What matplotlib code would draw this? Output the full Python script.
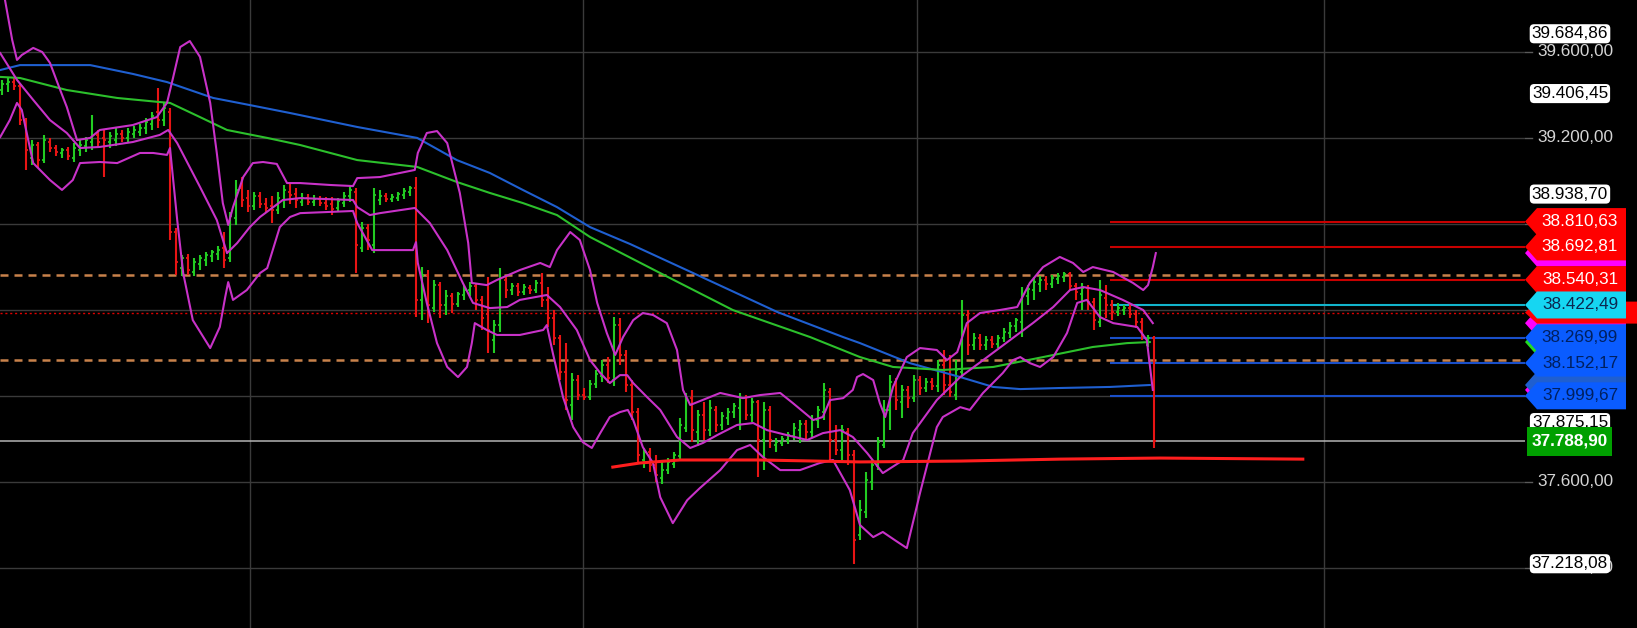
import matplotlib
matplotlib.use('Agg')
import matplotlib.pyplot as plt
from matplotlib.patches import Polygon, Rectangle
import numpy as np

plt.rcParams['font.family'] = ['Liberation Sans', 'DejaVu Sans']

# ---------------- price bars (OHLC) ----------------
opens = [39423, 39451, 39460, 39442, 39283, 39107, 39167, 39097, 39181, 39153,
         39130, 39144, 39107, 39144, 39162, 39181, 39214, 39200, 39181, 39190,
         39218, 39200, 39218, 39228, 39246, 39265, 39321, 39283, 39321, 38762,
         38594, 38641, 38576, 38613, 38632, 38650, 38660, 38688, 38641, 38827,
         38967, 38920, 38883, 38930, 38892, 38883, 38865, 38911, 38948, 38939,
         38902, 38920, 38902, 38916, 38897, 38892, 38874, 38897, 38930, 38948,
         38688, 38781, 38702, 38911, 38930, 38916, 38920, 38934, 38948, 38967,
         38446, 38562, 38408, 38515, 38422, 38464, 38427, 38469, 38492, 38511,
         38446, 38380, 38259, 38329, 38539, 38492, 38511, 38483, 38501, 38492,
         38525, 38446, 38362, 38269, 38110, 37957, 38073, 38003, 37994, 38054,
         38092, 38143, 38073, 38329, 38190, 38050, 37924, 37701, 37738, 37678,
         37617, 37654, 37682, 37719, 37850, 37989, 37831, 37910, 37840, 37934,
         37864, 37896, 37924, 37943, 37989, 37910, 37971, 37794, 37934, 37771,
         37780, 37794, 37812, 37840, 37868, 37831, 37887, 37924, 38017, 37794,
         37747, 37831, 37724, 37352, 37459, 37598, 37673, 37771, 37934, 38064,
         37971, 38027, 37989, 38073, 38036, 38064, 38045, 38143, 38050, 38003,
         38110, 38376, 38236, 38269, 38236, 38259, 38241, 38269, 38292, 38324,
         38343, 38464, 38492, 38520, 38539, 38520, 38543, 38553, 38567, 38511,
         38473, 38501, 38436, 38343, 38455, 38422, 38390, 38399, 38408, 38380,
         38343, 38236, 38269]
highs = [39470, 39479, 39479, 39451, 39293, 39190, 39181, 39214, 39200, 39167,
         39153, 39158, 39176, 39190, 39204, 39307, 39237, 39237, 39228, 39246,
         39237, 39246, 39255, 39265, 39293, 39321, 39432, 39363, 39339, 38781,
         38655, 38660, 38641, 38655, 38669, 38678, 38697, 38762, 38855, 39004,
         39018, 38958, 38948, 38948, 38920, 38930, 38948, 38981, 38990, 38967,
         38944, 38939, 38934, 38930, 38925, 38925, 38920, 38948, 38976, 38967,
         38809, 38799, 38967, 38958, 38944, 38939, 38948, 38967, 38976, 39018,
         38599, 38585, 38539, 38529, 38492, 38478, 38483, 38515, 38529, 38525,
         38464, 38553, 38352, 38594, 38557, 38525, 38525, 38520, 38515, 38539,
         38571, 38506, 38399, 38283, 38245, 38106, 38096, 38036, 38073, 38120,
         38166, 38180, 38366, 38362, 38213, 38073, 37943, 37757, 37757, 37724,
         37691, 37710, 37738, 37896, 38013, 38027, 37934, 37971, 37980, 37952,
         37924, 37943, 37966, 38013, 38003, 37989, 37980, 37971, 37952, 37803,
         37812, 37831, 37873, 37887, 37887, 37910, 37952, 38059, 38036, 37864,
         37864, 37850, 37747, 37514, 37645, 37701, 37808, 37980, 38096, 38082,
         38050, 38045, 38096, 38092, 38082, 38082, 38166, 38213, 38190, 38166,
         38446, 38399, 38292, 38287, 38278, 38278, 38283, 38315, 38343, 38362,
         38506, 38515, 38553, 38557, 38557, 38562, 38571, 38576, 38576, 38525,
         38525, 38515, 38455, 38539, 38515, 38446, 38432, 38422, 38427, 38399,
         38362, 38283, 38278]
lows = [39400, 39414, 39423, 39260, 39051, 39074, 39060, 39083, 39134, 39116,
        39107, 39097, 39088, 39116, 39134, 39144, 39153, 39018, 39153, 39162,
        39181, 39181, 39200, 39209, 39218, 39237, 39246, 39255, 38725, 38562,
        38557, 38562, 38557, 38585, 38604, 38622, 38632, 38594, 38622, 38795,
        38878, 38855, 38865, 38874, 38855, 38804, 38846, 38874, 38892, 38874,
        38883, 38888, 38883, 38883, 38865, 38841, 38855, 38878, 38902, 38571,
        38669, 38678, 38664, 38888, 38902, 38902, 38906, 38916, 38930, 38366,
        38352, 38338, 38390, 38362, 38376, 38385, 38413, 38446, 38464, 38399,
        38306, 38199, 38199, 38297, 38455, 38469, 38464, 38469, 38473, 38478,
        38413, 38320, 38236, 38073, 37934, 37887, 37980, 37980, 37980, 38036,
        38064, 38059, 38045, 38143, 38017, 37887, 37687, 37663, 37645, 37598,
        37589, 37636, 37663, 37701, 37831, 37784, 37766, 37794, 37812, 37831,
        37840, 37864, 37896, 37840, 37887, 37878, 37622, 37654, 37757, 37738,
        37766, 37775, 37794, 37780, 37794, 37803, 37850, 37887, 37701, 37724,
        37701, 37678, 37218, 37328, 37431, 37561, 37654, 37757, 37840, 37934,
        37896, 37943, 37971, 38003, 38017, 38027, 38017, 38003, 37994, 37980,
        38082, 38190, 38213, 38213, 38213, 38222, 38222, 38250, 38269, 38297,
        38273, 38422, 38446, 38483, 38492, 38501, 38520, 38529, 38492, 38446,
        38399, 38399, 38306, 38320, 38362, 38352, 38371, 38376, 38362, 38315,
        38259, 38227, 37757]
closes = [39451, 39460, 39442, 39283, 39144, 39167, 39097, 39190, 39153, 39134,
          39144, 39116, 39153, 39167, 39190, 39214, 39181, 39190, 39209, 39218,
          39200, 39228, 39237, 39246, 39274, 39302, 39283, 39339, 38762, 38622,
          38641, 38585, 38622, 38641, 38655, 38669, 38678, 38632, 38837, 38958,
          38911, 38883, 38930, 38892, 38874, 38865, 38920, 38958, 38934, 38911,
          38920, 38902, 38916, 38897, 38883, 38869, 38906, 38930, 38958, 38702,
          38781, 38725, 38934, 38930, 38916, 38925, 38939, 38953, 38967, 38446,
          38562, 38422, 38515, 38422, 38464, 38427, 38473, 38492, 38511, 38446,
          38362, 38306, 38329, 38548, 38492, 38511, 38483, 38506, 38492, 38525,
          38446, 38362, 38269, 38110, 37980, 38073, 38003, 37994, 38054, 38101,
          38143, 38082, 38329, 38190, 38050, 37924, 37724, 37738, 37678, 37631,
          37654, 37691, 37724, 37864, 37980, 37840, 37910, 37840, 37943, 37864,
          37906, 37924, 37952, 37989, 37910, 37971, 37794, 37934, 37794, 37784,
          37798, 37817, 37850, 37868, 37831, 37887, 37934, 38027, 37794, 37747,
          37840, 37724, 37328, 37468, 37608, 37678, 37784, 37934, 38064, 37980,
          38027, 37989, 38073, 38036, 38064, 38045, 38143, 38050, 38017, 38120,
          38376, 38236, 38269, 38236, 38259, 38241, 38269, 38297, 38324, 38352,
          38469, 38497, 38529, 38539, 38520, 38548, 38557, 38567, 38511, 38483,
          38501, 38436, 38352, 38469, 38422, 38390, 38408, 38408, 38380, 38343,
          38283, 38269, 37788.90]

# ---------------- indicators (bar index, price) ----------------
bb_upper_x = [-0.3, 0.5, 1.7, 2.5, 3.3, 5.2, 6.7, 8.0, 9.7, 10.8, 12.5, 14.7, 16.3, 21.8, 25.8,
              27.5, 28.5, 29.7, 31.3, 33.0, 34.7, 35.8, 36.8, 37.7, 38.5, 40.2, 41.8, 43.5, 45.8,
              47.5, 49.7, 54.7, 58.5, 59.2, 63.0, 68.8, 69.3, 70.8, 72.5, 74.2, 76.3, 77.7, 78.3,
              80.8, 82.5, 86.3, 89.7, 91.3, 92.5, 94.7, 96.3, 98.0, 99.2, 100.8, 102.2, 103.5,
              105.2, 106.8, 108.5, 110.8, 112.5, 113.5, 114.7, 118.0, 119.7, 123.5, 126.3, 129.7,
              131.8, 135.2, 136.8, 138.0, 140.2, 141.8, 142.5, 143.5, 145.2, 146.3, 147.2, 148.5,
              150.8, 153.0, 155.8, 157.5, 159.2, 160.8, 163.0, 166.3, 169.2, 171.3, 173.5, 176.3,
              178.5, 180.2, 181.8, 185.2, 188.5, 190.2, 191.0, 191.8, 192.3]
bb_upper_y = [39982, 39842, 39656, 39563, 39586, 39619, 39600, 39549, 39423, 39344, 39190, 39200,
              39237, 39260, 39297, 39363, 39479, 39623, 39651, 39577, 39363, 39130, 38897, 38795,
              38878, 39018, 39083, 39088, 39079, 38990, 38990, 38981, 38976, 39013, 39018, 39051,
              39130, 39223, 39232, 39176, 38944, 38711, 38525, 38515, 38539, 38585, 38618, 38599,
              38678, 38762, 38725, 38585, 38432, 38292, 38190, 38273, 38352, 38385, 38376, 38338,
              38213, 38027, 37957, 37994, 38013, 37989, 38003, 38013, 37966, 37887, 37901, 37980,
              37989, 38027, 38087, 38101, 38073, 37966, 37901, 38041, 38180, 38222, 38213, 38166,
              38203, 38338, 38385, 38399, 38413, 38525, 38599, 38646, 38618, 38576, 38599, 38576,
              38525, 38492, 38515, 38599, 38664]

bb_mid_x = [-0.3, 2.5, 5.2, 8.0, 10.8, 13.0, 16.3, 21.8, 26.3, 27.7, 29.2, 33.0, 35.8, 37.5, 39.2,
            41.3, 43.0, 46.8, 49.7, 58.5, 59.2, 61.3, 63.0, 68.8, 71.3, 74.2, 76.8, 78.5, 81.3,
            84.2, 86.3, 90.8, 93.0, 95.8, 98.0, 99.7, 101.3, 103.0, 104.2, 105.2, 107.5, 109.7,
            112.5, 114.7, 116.8, 119.2, 122.5, 125.2, 127.5, 130.8, 134.2, 136.8, 139.7, 141.8,
            144.2, 146.8, 150.2, 151.8, 155.8, 159.7, 164.2, 168.0, 171.8, 175.2, 178.0, 180.2,
            183.0, 186.8, 190.2, 191.8]
bb_mid_y = [39595, 39470, 39377, 39283, 39223, 39153, 39158, 39181, 39214, 39237, 39176, 38972,
            38818, 38664, 38711, 38785, 38832, 38911, 38920, 38911, 38878, 38841, 38850, 38874,
            38804, 38678, 38525, 38432, 38408, 38413, 38446, 38469, 38413, 38306, 38166, 38106,
            38059, 38096, 38096, 38059, 37994, 37934, 37808, 37757, 37780, 37817, 37864, 37873,
            37840, 37817, 37794, 37826, 37840, 37808, 37733, 37640, 37701, 37826, 37980, 38087,
            38180, 38259, 38338, 38413, 38492, 38506, 38492, 38446, 38399, 38338]

bb_lower_x = [-0.3, 1.3, 2.5, 3.3, 5.2, 8.0, 10.0, 11.8, 13.0, 16.3, 19.2, 23.0, 25.2, 27.5, 28.0,
              29.2, 30.2, 31.8, 34.7, 36.3, 37.2, 37.7, 38.5, 40.8, 43.0, 44.2, 46.3, 48.0, 49.7,
              58.5, 59.2, 61.7, 68.5, 69.0, 69.3, 70.8, 72.5, 74.2, 76.0, 77.5, 78.3, 78.8, 80.8,
              82.5, 86.3, 90.2, 90.8, 91.8, 93.5, 95.2, 96.8, 98.3, 99.7, 101.3, 103.0, 104.3,
              105.2, 106.8, 108.5, 109.7, 111.8, 114.2, 116.3, 119.7, 122.5, 124.7, 126.8, 129.7,
              133.0, 136.3, 138.5, 141.3, 143.0, 145.2, 146.8, 148.8, 150.8, 153.0, 155.8, 156.8,
              159.7, 161.3, 163.5, 166.8, 168.5, 169.7, 171.3, 173.0, 175.2, 177.5, 179.2, 180.8,
              183.0, 185.2, 189.2, 190.8, 191.8]
bb_lower_y = [39204, 39283, 39363, 39330, 39083, 39004, 38958, 39004, 39083, 39088, 39083, 39130,
              39130, 39121, 39153, 38818, 38571, 38352, 38222, 38320, 38459, 38529, 38446, 38492,
              38571, 38594, 38785, 38832, 38850, 38860, 38804, 38678, 38678, 38715, 38618, 38432,
              38245, 38134, 38087, 38134, 38245, 38338, 38306, 38283, 38283, 38306, 38329, 38199,
              37994, 37854, 37784, 37757, 37826, 37901, 37924, 37934, 37887, 37761, 37687, 37528,
              37407, 37514, 37570, 37654, 37747, 37771, 37715, 37654, 37654, 37687, 37701, 37561,
              37398, 37342, 37366, 37328, 37291, 37547, 37854, 37901, 37947, 37934, 38013, 38106,
              38166, 38180, 38152, 38134, 38180, 38292, 38432, 38446, 38366, 38338, 38320, 38259,
              38027]

ma_blue_x = [-0.3, 3.0, 14.7, 21.8, 27.5, 35.2, 41.3, 48.0, 59.2, 69.2, 75.8, 81.3, 86.8, 92.5,
             98.0, 104.7, 115.2, 129.2, 140.2, 143.0, 151.3, 159.7, 165.2, 169.7, 176.3, 184.7,
             191.3]
ma_blue_y = [39516, 39539, 39539, 39498, 39460, 39386, 39353, 39316, 39251, 39200, 39097, 39037,
             38958, 38878, 38785, 38706, 38571, 38390, 38273, 38245, 38152, 38087, 38041, 38031,
             38036, 38041, 38050]

ma_green_x = [-0.3, 3.0, 10.8, 19.2, 26.3, 28.0, 33.0, 37.5, 44.2, 49.7, 59.2, 69.2, 75.8, 81.3,
              86.8, 92.5, 98.0, 109.7, 121.8, 134.7, 143.0, 148.5, 156.8, 165.2, 173.5, 181.8,
              187.5, 191.3]
ma_green_y = [39484, 39479, 39423, 39386, 39367, 39363, 39297, 39237, 39200, 39167, 39097, 39065,
              38995, 38944, 38897, 38841, 38739, 38571, 38399, 38273, 38180, 38134, 38120, 38134,
              38180, 38227, 38245, 38250]

trend_x = [101.8, 106.3, 113.0, 126.3, 143.0, 159.7, 176.3, 193.0, 216.8]
trend_y = [37668, 37687, 37701, 37701, 37692, 37696, 37705, 37710, 37705]

# ---------------- levels ----------------
levels_red = [38810.63, 38692.81, 38540.31]
levels_cyan = [38422.49]
levels_blue = [38269.99, 38152.17, 37999.67]
level_start = 184.7
orange_dashed = [38562, 38166]
red_dotted = 38387
last_price = 37788.90
boxed_values = [39684.86, 39406.45, 38938.70, 37875.15, 37218.08]
grid_levels = [37200, 37600, 38000, 38400, 38800, 39200, 39600]
shown_tick_labels = [37200, 37600, 39200, 39600]
vgrid = [41.3, 96.8, 152.5, 220.3]

# ---------------- figure ----------------
W, H = 1637, 628
PLOT_W = 1525
YMAX, YMIN = 39842, 36919
fig = plt.figure(figsize=(W / 100, H / 100), dpi=100, facecolor='black')
ax = fig.add_axes([0, 0, PLOT_W / W, 1])
ax.set_facecolor('black')
ax.set_xlim(-1 / 3, 253.83)
ax.set_ylim(YMIN, YMAX)
ax.axis('off')

GRID = '#3a3a3a'
for t in grid_levels:
    ax.axhline(t, color=GRID, lw=1, zorder=0)
for v in vgrid:
    ax.axvline(v, color=GRID, lw=1, zorder=0)

# dashed / dotted levels
for v in orange_dashed:
    ax.axhline(v, color='#c8824b', lw=1.8, ls=(0, (3.2, 2.4)), zorder=1)
ax.axhline(red_dotted, color='#e00000', lw=1.0, ls=(0, (1.5, 2)), zorder=1)
ax.axhline(last_price, color='#b4b4b4', lw=1.1, zorder=1)

# bars
o = np.array(opens, float); h = np.array(highs, float)
l = np.array(lows, float); c = np.array(closes, float)
idx = np.arange(len(c))
cols = np.where(c >= o, '#22cc22', '#e81414')
ax.vlines(idx, l, h, colors=cols, lw=1.5, zorder=3)
ax.hlines(o, idx - 0.4, idx, colors=cols, lw=1.3, zorder=3)
ax.hlines(c, idx, idx + 0.4, colors=cols, lw=1.3, zorder=3)

# indicators
ax.plot(ma_blue_x, ma_blue_y, color='#1f5fd0', lw=1.5, zorder=4)
ax.plot(ma_green_x, ma_green_y, color='#2cc02c', lw=1.5, zorder=4)
for xs, ys in [(bb_upper_x, bb_upper_y), (bb_mid_x, bb_mid_y), (bb_lower_x, bb_lower_y)]:
    ax.plot(xs, ys, color='#c832c8', lw=1.5, zorder=5, solid_joinstyle='round')
ax.plot(trend_x, trend_y, color='#ff1e1e', lw=2.2, zorder=5)

# horizontal level lines from the right
for v in levels_red:
    ax.hlines(v, level_start, 253.83, color='#c80000', lw=1.5, zorder=2)
for v in levels_cyan:
    ax.hlines(v, level_start, 253.83, color='#12b4cc', lw=1.5, zorder=2)
for v in levels_blue:
    ax.hlines(v, level_start, 253.83, color='#1a4fc8', lw=1.5, zorder=2)

# ---------------- right price panel ----------------
pax = fig.add_axes([PLOT_W / W, 0, (W - PLOT_W) / W, 1])
pax.set_facecolor('#141414')
pax.set_xlim(PLOT_W, W)
pax.set_ylim(YMIN, YMAX)
pax.axis('off')
pax.patch.set_visible(True)
PX = (YMAX - YMIN) / H  # price units per pixel


def fmt(v):
    s = f"{v:,.2f}"
    return s.replace(',', 'X').replace('.', ',').replace('X', '.')


FS = 12.3
for t in grid_levels:
    pax.plot([1525, 1532], [t, t], color='#5a5a5a', lw=1)
for t in shown_tick_labels:
    pax.text(1575, t, fmt(t), color='#d4d4d4', ha='center', va='center', fontsize=FS, zorder=2)


def tag(v, face, tc=None, end=1626, hpx=27, z=3):
    hh = hpx * PX / 2
    poly = Polygon([(1525, v), (1537, v + hh), (end, v + hh), (end, v - hh), (1537, v - hh)],
                   closed=True, fc=face, ec='none', zorder=z)
    pax.add_patch(poly)
    if tc is not None:
        pax.text(1580, v, fmt(v), color=tc, ha='center', va='center', fontsize=FS, zorder=z + 0.5)


# indicator tags (mostly covered by the level tags)
tag(bb_upper_y[-1], '#ff00ff', z=3)
tag(bb_mid_y[-1], '#ff00ff', z=3)
tag(bb_lower_y[-1], '#ff00ff', z=3)
tag(ma_green_y[-1], '#22dd22', z=3)
tag(ma_blue_y[-1], '#1f5fd0', z=3)
tag(red_dotted, '#ff0000', end=1637, hpx=22, z=3.2)

for v in levels_red:
    tag(v, '#ff0000', 'white', z=4)
for v in levels_cyan:
    tag(v, '#16d6f2', '#0b2850', z=5)
for v in levels_blue:
    tag(v, '#0a5cff', '#002060', z=5)

for v in boxed_values:
    pax.text(1570, v, fmt(v), color='black', ha='center', va='center', fontsize=FS, zorder=6,
             bbox=dict(boxstyle='round,pad=0.12,rounding_size=0.25', fc='white', ec='none'))

# last price
hh = 29 * PX / 2
pax.add_patch(Rectangle((1527, last_price - hh), 85, 2 * hh, fc='#00a000', ec='none', zorder=7))
pax.text(1570, last_price, fmt(last_price), color='white', ha='center', va='center',
         fontsize=FS, fontweight='bold', zorder=8)

fig.savefig('out.png', dpi=100, facecolor='black')
